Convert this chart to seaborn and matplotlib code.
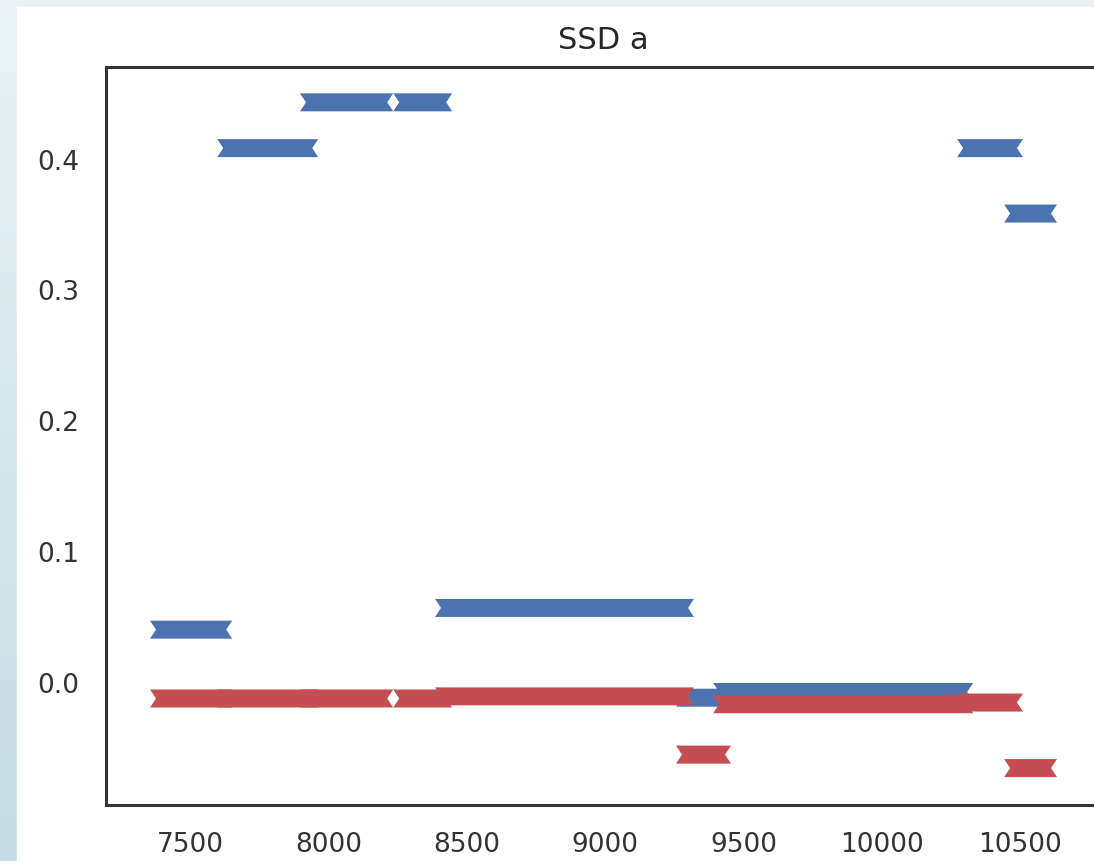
import numpy as np
import pandas as pd
import matplotlib
matplotlib.use("Agg")
import matplotlib.pyplot as plt
import seaborn as sns
from matplotlib.colors import LinearSegmentedColormap

# ---- data ----
seg_start = [7355, 7598, 7897, 8234, 8385, 9256, 9390, 10272, 10442]
seg_end   = [7652, 7963, 8234, 8447, 9321, 9455, 10330, 10510, 10633]
blue_vals = [0.040, 0.408, 0.443, 0.443, 0.0566, -0.012, -0.0076, 0.408, 0.358]
red_vals  = [-0.0126, -0.0126, -0.0126, -0.0126, -0.011, -0.0555, -0.017, -0.0157, -0.0658]
x_ticks = [7500, 8000, 8500, 9000, 9500, 10000, 10500]
y_ticks = [0.0, 0.1, 0.2, 0.3, 0.4]
title = "SSD a"

df = pd.DataFrame({"start": seg_start, "end": seg_end,
                   "blue": blue_vals, "red": red_vals})

sns.set_theme(style="white")
pal = sns.color_palette("deep")
c_blue, c_red = pal[0], pal[3]

W, H = 1094, 862
fig = plt.figure(figsize=(W / 100, H / 100), dpi=100)
fig.patch.set_facecolor("white")

# background frame (screenshot-like border)
bg = fig.add_axes([0, 0, 1, 1], zorder=-10)
grad = np.linspace(0, 1, 256).reshape(-1, 1)
cmap = LinearSegmentedColormap.from_list("bg", ["#eaf2f5", "#c4dce3"])
bg.imshow(grad, aspect="auto", cmap=cmap, extent=[0, 1, 0, 1], origin="upper")
bg.fill_between([0, 1], 1 - 8 / H, 1, color="#eaf2f5")
bg.fill_between([17 / W, 1], 0, 1 - 8 / H, color="white")
bg.set_xlim(0, 1)
bg.set_ylim(0, 1)
bg.axis("off")

left, right, top, bottom = 106, 1101, 68, 806
ax = fig.add_axes([left / W, 1 - bottom / H, (right - left) / W, (bottom - top) / H])
ax.set_facecolor("white")
xlim = (7196, 10792)
ylim = (-0.094, 0.470)
ax.set_xlim(*xlim)
ax.set_ylim(*ylim)

# convert pixel style sizes into data units
px_x = (xlim[1] - xlim[0]) / (right - left)
px_y = (ylim[1] - ylim[0]) / (bottom - top)
BAR_H_PX = 18
NOTCH_PX = 6
h = BAR_H_PX / 2 * px_y
d = NOTCH_PX * px_x


def ribbon(x0, x1, v, color):
    xs = [x0, x1, x1 - d, x1, x0, x0 + d]
    ys = [v - h, v - h, v, v + h, v + h, v]
    ax.fill(xs, ys, color=color, linewidth=0, zorder=3)


for _, r in df.iterrows():
    ribbon(r["start"], r["end"], r["blue"], c_blue)
for _, r in df.iterrows():
    ribbon(r["start"], r["end"], r["red"], c_red)

ax.set_xticks(x_ticks)
ax.set_yticks(y_ticks)
ax.set_yticklabels([f"{t:.1f}" for t in y_ticks])
ax.tick_params(axis="both", labelsize=19, pad=19, length=0, colors="#333333")
ax.set_title(title, fontsize=22, color="#262626", pad=14)
for s in ax.spines.values():
    s.set_color("#333333")
    s.set_linewidth(2.2)

fig.savefig("out.png", dpi=100)
